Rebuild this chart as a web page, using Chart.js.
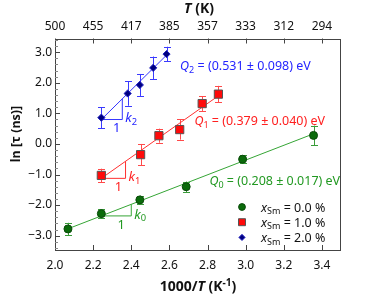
<!DOCTYPE html>
<html><head><meta charset="utf-8">
<script src="https://cdn.jsdelivr.net/npm/chart.js@4"></script>
<style>html,body{margin:0;padding:0;background:#fff;}canvas{display:block;}</style>
</head><body>
<canvas id="c" width="374" height="296"></canvas>
<script>
const FONT = '"Noto Sans", "DejaVu Sans", sans-serif';

// ---- data ----
const xSm0X = [2.068, 2.243, 2.445, 2.688, 2.984, 3.356];
const xSm0Y = [-2.78, -2.28, -1.83, -1.40, -0.50, 0.28];
const xSm0Err = [0.20, 0.15, 0.14, 0.17, 0.13, 0.32];

const xSm1X = [2.243, 2.449, 2.545, 2.654, 2.772, 2.857];
const xSm1Y = [-1.03, -0.35, 0.27, 0.47, 1.32, 1.63];
const xSm1Err = [0.22, 0.35, 0.23, 0.33, 0.24, 0.27];

const xSm2X = [2.243, 2.381, 2.445, 2.515, 2.585];
const xSm2Y = [0.86, 1.65, 1.93, 2.49, 2.94];
const xSm2Err = [0.34, 0.40, 0.36, 0.37, 0.24];

const concentrations = ['0.0', '1.0', '2.0'];
const activationEnergy = [0.208, 0.379, 0.531];   // eV
const activationError = [0.017, 0.040, 0.098];    // eV
const fitIntercept = [-7.769, -10.991, -13.023];
const triangleStart = [2.243, 2.243, 2.243];
const triangleEnd = [2.40, 2.37, 2.353];
const qLabelAnchorX = [2.81, 2.731, 2.656];
const qLabelAnchorY = [-1.20, 0.76, 2.56];

const bottomTicks = [2.0, 2.2, 2.4, 2.6, 2.8, 3.0, 3.2, 3.4];
const topTickLabels = ['500', '455', '417', '385', '357', '333', '312', '294'];
const yTicks = [-3, -2, -1, 0, 1, 2, 3];
const kB = 8.617e-5;

// ---- styles ----
const lineColors = ['#35a535', '#ff3030', '#3535ff'];
const errColors = ['#3a9c3a', '#ff4a4a', '#3a3aff'];
const textColors = ['#229922', '#ff2020', '#2424ff'];
const pointFill = ['#0b6b0b', '#ff0a0a', '#000080'];
const pointBorder = ['#0a4a0a', '#555555', '#2020c0'];
const pointStyles = ['circle', 'rect', 'rectRot'];
const pointRadius = [4, 5.8, 3.6];

const seriesX = [xSm0X, xSm1X, xSm2X];
const seriesY = [xSm0Y, xSm1Y, xSm2Y];
const seriesErr = [xSm0Err, xSm1Err, xSm2Err];

const slope = activationEnergy.map(q => q / (kB * 1000));
const fitY = (i, x) => fitIntercept[i] + slope[i] * x;

const datasets = [];
for (let i = 0; i < 3; i++) {
  datasets.push({
    label: 'x' + concentrations[i],
    data: seriesX[i].map((x, j) => ({x, y: seriesY[i][j]})),
    showLine: false,
    pointStyle: pointStyles[i],
    pointRadius: pointRadius[i],
    pointBackgroundColor: pointFill[i],
    pointBorderColor: pointBorder[i],
    pointBorderWidth: 1,
    order: 0
  });
  const xs = seriesX[i];
  const x0 = Math.min(...xs), x1 = Math.max(...xs);
  datasets.push({
    label: 'fit' + i,
    data: [{x: x0, y: fitY(i, x0)}, {x: x1, y: fitY(i, x1)}],
    showLine: true, borderColor: lineColors[i], borderWidth: 1, pointRadius: 0, order: 1
  });
  const ta = triangleStart[i], tb = triangleEnd[i];
  datasets.push({
    label: 'tri' + i,
    data: [{x: ta, y: fitY(i, ta)}, {x: tb, y: fitY(i, ta)}, {x: tb, y: fitY(i, tb)}],
    showLine: true, borderColor: lineColors[i], borderWidth: 1, pointRadius: 0, order: 1
  });
}

function fontStr(p, size) {
  return (p.i ? 'italic ' : '') + (p.b ? 'bold ' : '') + size + 'px ' + FONT;
}
function partSize(p, size) { return p.s ? size * 0.72 : size; }
function richWidth(ctx, parts, size) {
  let w = 0;
  for (const p of parts) { ctx.font = fontStr(p, partSize(p, size)); w += ctx.measureText(p.t).width; }
  return w;
}
function drawRich(ctx, parts, x, y, size, color, align) {
  ctx.save();
  ctx.fillStyle = color;
  ctx.textBaseline = 'alphabetic';
  ctx.textAlign = 'left';
  let cx = x;
  const w = richWidth(ctx, parts, size);
  if (align === 'center') cx = x - w / 2;
  const base = y + size * 0.36;
  for (const p of parts) {
    const s = partSize(p, size);
    ctx.font = fontStr(p, s);
    let dy = 0;
    if (p.s === 'sub') dy = size * 0.22;
    if (p.s === 'sup') dy = -size * 0.38;
    ctx.fillText(p.t, cx, base + dy);
    cx += ctx.measureText(p.t).width;
  }
  ctx.restore();
}

const decor = {
  id: 'decor',
  beforeDatasetsDraw(chart) {
    const ctx = chart.ctx, xs = chart.scales.x, ys = chart.scales.y;
    ctx.save();
    ctx.lineWidth = 1;
    for (let i = 0; i < 3; i++) {
      ctx.strokeStyle = errColors[i];
      seriesX[i].forEach((x, j) => {
        const px = Math.round(xs.getPixelForValue(x)) + 0.5;
        const yt = ys.getPixelForValue(seriesY[i][j] + seriesErr[i][j]);
        const yb = ys.getPixelForValue(seriesY[i][j] - seriesErr[i][j]);
        ctx.beginPath();
        ctx.moveTo(px, yt); ctx.lineTo(px, yb);
        ctx.moveTo(px - 3.5, Math.round(yt) + 0.5); ctx.lineTo(px + 3.5, Math.round(yt) + 0.5);
        ctx.moveTo(px - 3.5, Math.round(yb) + 0.5); ctx.lineTo(px + 3.5, Math.round(yb) + 0.5);
        ctx.stroke();
      });
    }
    ctx.restore();
  },
  afterDraw(chart) {
    const ctx = chart.ctx, xs = chart.scales.x, ys = chart.scales.y;
    const a = chart.chartArea;
    ctx.save();
    // frame
    ctx.strokeStyle = '#444';
    ctx.lineWidth = 1;
    ctx.strokeRect(Math.round(a.left) + 0.5, Math.round(a.top) + 0.5,
                   Math.round(a.right - a.left) - 1, Math.round(a.bottom - a.top) - 1);
    // ticks
    ctx.beginPath();
    bottomTicks.forEach(v => {
      const px = Math.round(xs.getPixelForValue(v)) + 0.5;
      ctx.moveTo(px, a.bottom); ctx.lineTo(px, a.bottom - 5);
      ctx.moveTo(px, a.top); ctx.lineTo(px, a.top + 5);
    });
    yTicks.forEach(v => {
      const py = Math.round(ys.getPixelForValue(v)) + 0.5;
      ctx.moveTo(a.left, py); ctx.lineTo(a.left + 5, py);
    });
    ctx.stroke();
    ctx.strokeStyle = '#888';
    ctx.beginPath();
    for (let k = -17; k <= 17; k++) {
      if (k % 5 === 0) continue;
      const v = k * 0.2;
      if (v < ys.min || v > ys.max) continue;
      const py = Math.round(ys.getPixelForValue(v)) + 0.5;
      ctx.moveTo(a.left, py); ctx.lineTo(a.left + 3, py);
    }
    ctx.stroke();

    // triangle labels
    for (let i = 0; i < 3; i++) {
      const ta = triangleStart[i], tb = triangleEnd[i];
      const pa = xs.getPixelForValue(ta), pb = xs.getPixelForValue(tb);
      const py = ys.getPixelForValue(fitY(i, ta));
      drawRich(ctx, [{t: '1'}], (pa + pb) / 2 + 5, py + 8, 13, textColors[i], 'center');
      drawRich(ctx, [{t: 'k', i: true}, {t: String(i), s: 'sub'}], pb + 3, py - 2, 13, textColors[i], 'left');
    }
    // activation energy labels
    for (let i = 0; i < 3; i++) {
      const px = xs.getPixelForValue(qLabelAnchorX[i]);
      const py = ys.getPixelForValue(qLabelAnchorY[i]);
      drawRich(ctx, [{t: 'Q', i: true}, {t: String(i), s: 'sub'},
        {t: ' = (' + activationEnergy[i].toFixed(3) + ' \u00b1 ' + activationError[i].toFixed(3) + ') eV'}],
        px, py, 12.5, textColors[i], 'left');
    }
    // legend
    for (let i = 0; i < 3; i++) {
      const lx = a.right - 99, ly = a.bottom - 43 + i * 15.2;
      ctx.save();
      ctx.fillStyle = pointFill[i]; ctx.strokeStyle = pointBorder[i]; ctx.lineWidth = 1;
      Chart.helpers.drawPoint(ctx, {pointStyle: pointStyles[i], radius: pointRadius[i] * 0.85, borderWidth: 1}, lx, ly);
      ctx.restore();
      drawRich(ctx, [{t: 'x', i: true}, {t: 'Sm', s: 'sub'}, {t: ' = ' + concentrations[i] + ' %'}],
        lx + 19, ly, 12.5, '#111', 'left');
    }
    // axis titles
    drawRich(ctx, [{t: 'T', i: true, b: true}, {t: ' (K)', b: true}], (a.left + a.right) / 2 + 1, 8, 14, '#111', 'center');
    drawRich(ctx, [{t: '1000/', b: true}, {t: 'T', i: true, b: true}, {t: ' (K', b: true}, {t: '-1', b: true, s: 'sup'}, {t: ')', b: true}],
      (a.left + a.right) / 2, 286, 14, '#111', 'center');
    ctx.translate(15, 134);
    ctx.rotate(-Math.PI / 2);
    drawRich(ctx, [{t: 'ln [\u03c4 (ns)]', b: true}], 0, 0, 12.5, '#111', 'center');
    ctx.restore();
  }
};

const tickFont = {family: FONT, size: 12};
new Chart(document.getElementById('c'), {
  type: 'scatter',
  data: {datasets},
  options: {
    responsive: false,
    animation: false,
    events: [],
    layout: {padding: {left: 0, right: 33, top: 0, bottom: 0}},
    plugins: {legend: {display: false}, tooltip: {enabled: false}},
    scales: {
      x: {
        type: 'linear', position: 'bottom', min: 2.0, max: 3.5,
        afterBuildTicks: s => { s.ticks = bottomTicks.map(v => ({value: v})); },
        afterFit: s => { s.height = 46; },
        ticks: {font: tickFont, color: '#111', padding: 8, maxRotation: 0, autoSkip: false,
                callback: v => v.toFixed(1)},
        grid: {display: false, drawTicks: false},
        border: {display: false}
      },
      x2: {
        type: 'linear', position: 'top', min: 2.0, max: 3.5,
        afterBuildTicks: s => { s.ticks = bottomTicks.map(v => ({value: v})); },
        afterFit: s => { s.height = 38.5; },
        ticks: {font: tickFont, color: '#111', padding: 5, maxRotation: 0, autoSkip: false,
                callback: (v, i) => topTickLabels[i]},
        grid: {display: false, drawTicks: false},
        border: {display: false}
      },
      y: {
        type: 'linear', position: 'left', min: -3.47, max: 3.45,
        afterBuildTicks: s => { s.ticks = yTicks.map(v => ({value: v})); },
        afterFit: s => { s.width = 55; },
        ticks: {font: tickFont, color: '#111', padding: 3, autoSkip: false,
                callback: v => (v < 0 ? '\u2212' : '') + Math.abs(v).toFixed(1)},
        grid: {display: false, drawTicks: false},
        border: {display: false}
      }
    }
  },
  plugins: [decor]
});
</script>
</body></html>
